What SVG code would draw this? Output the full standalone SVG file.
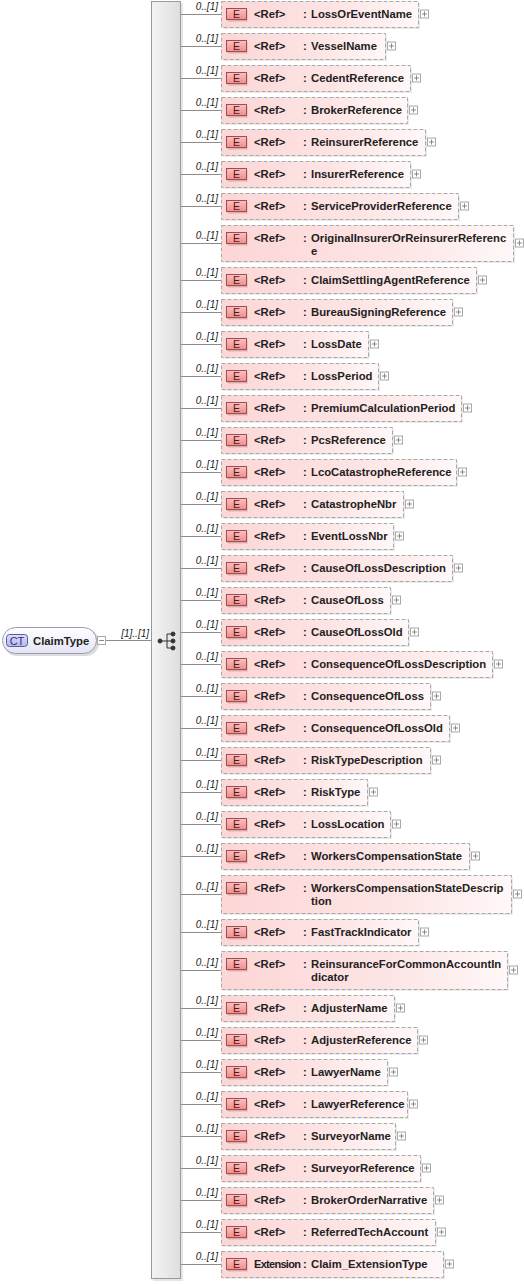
<svg xmlns="http://www.w3.org/2000/svg" xmlns:xlink="http://www.w3.org/1999/xlink" width="524" height="1284" viewBox="0 0 524 1284">
<defs>
<linearGradient id="gBox" x1="0" y1="0" x2="1" y2="0"><stop offset="0" stop-color="#fdd6d6"/><stop offset="0.6" stop-color="#fde5e5"/><stop offset="1" stop-color="#fff8f8"/></linearGradient>
<linearGradient id="gE" x1="0" y1="0" x2="0" y2="1"><stop offset="0" stop-color="#f9c2c2"/><stop offset="1" stop-color="#f08e8e"/></linearGradient>
<linearGradient id="gBar" x1="0" y1="0" x2="1" y2="0"><stop offset="0" stop-color="#f4f4f4"/><stop offset="1" stop-color="#dedede"/></linearGradient>
<linearGradient id="gCT" x1="0" y1="0" x2="0" y2="1"><stop offset="0" stop-color="#ffffff"/><stop offset="1" stop-color="#e4e4f6"/></linearGradient>
<linearGradient id="gCTb" x1="0" y1="0" x2="0" y2="1"><stop offset="0" stop-color="#dcdcfa"/><stop offset="1" stop-color="#b8b8ec"/></linearGradient>
<g id="plus"><rect x="0.5" y="0.5" width="8" height="8" fill="#fff" stroke="#a8a8a8"/><path d="M2 4.5h5M4.5 2v5" stroke="#8a8a8a" fill="none"/></g>
<g id="eb"><rect x="227.5" y="9.5" width="20" height="11" fill="#d9b0b0"/><rect x="226.5" y="7.5" width="20" height="11" fill="url(#gE)" stroke="#a34c4c"/><text x="236.5" y="16.6" class="et">E</text></g>
<style>
.box{fill:url(#gBox);stroke:#a9a9a9;stroke-dasharray:4 2}
.sh{fill:#ebebeb}
.et{font-family:"Liberation Sans",Arial,sans-serif;font-size:10.5px;fill:#5a1414;text-anchor:middle}
.t{font-family:"Liberation Sans",Arial,sans-serif;font-size:11.3px;font-weight:bold;fill:#222}
.lbl{font-family:"Liberation Sans",Arial,sans-serif;font-size:10px;font-style:italic;fill:#222;text-anchor:end}
.cn{stroke:#8c8c8c;stroke-width:1;fill:none}
</style>
</defs>
<rect width="524" height="1284" fill="#fff"/>

<g id="ClaimType">
<rect x="4" y="629" width="95" height="27" rx="13" fill="#dcdcdc"/>
<rect x="2.5" y="627.5" width="94" height="26" rx="13" fill="url(#gCT)" stroke="#9a9ab4"/>
<rect x="6.5" y="634.5" width="21" height="12" rx="3" fill="url(#gCTb)" stroke="#5a5aa0"/>
<text x="17" y="644.5" font-family="'Liberation Sans',Arial,sans-serif" font-size="11px" fill="#30307a" text-anchor="middle">CT</text>
<text x="33" y="644.5" class="t">ClaimType</text>
<rect x="97.5" y="636.5" width="8" height="8" fill="#fff" stroke="#a8a8a8"/>
<path d="M99 640.5h5" stroke="#8a8a8a"/>
</g>

<g id="sequence">
<rect x="153" y="3" width="30" height="1278" fill="#e6e6e6"/>
<rect x="151.5" y="1.5" width="29" height="1277" fill="url(#gBar)" stroke="#9a9a9a"/>
<g fill="#333" stroke="#333">
<path d="M160 641h7M167 634v14M167 634h6M167 641h6M167 648h6" fill="none"/>
<circle cx="160" cy="641" r="2"/><circle cx="173" cy="634" r="2"/><circle cx="173" cy="641" r="2"/><circle cx="173" cy="648" r="2"/>
</g>
</g>

<g id="connectors">
<path class="cn" d="M106 640.5H151"/>
<text class="lbl" x="149" y="637">[1]..[1]</text>
<path class="cn" d="M181 14.5h40M181 46.5h40M181 78.5h40M181 110.5h40M181 142.5h40M181 174.5h40M181 206.5h40M181 243.5h40M181 280.5h40M181 312.5h40M181 344.5h40M181 376.5h40M181 408.5h40M181 440.5h40M181 472.5h40M181 504.5h40M181 536.5h40M181 568.5h40M181 600.5h40M181 632.5h40M181 664.5h40M181 696.5h40M181 728.5h40M181 760.5h40M181 792.5h40M181 824.5h40M181 856.5h40M181 894.5h40M181 932.5h40M181 970.5h40M181 1008.5h40M181 1040.5h40M181 1072.5h40M181 1104.5h40M181 1136.5h40M181 1168.5h40M181 1200.5h40M181 1232.5h40M181 1264.5h40"/>
<text class="lbl" x="218" y="10">0..[1]</text>
<text class="lbl" x="218" y="42">0..[1]</text>
<text class="lbl" x="218" y="74">0..[1]</text>
<text class="lbl" x="218" y="106">0..[1]</text>
<text class="lbl" x="218" y="138">0..[1]</text>
<text class="lbl" x="218" y="170">0..[1]</text>
<text class="lbl" x="218" y="202">0..[1]</text>
<text class="lbl" x="218" y="239">0..[1]</text>
<text class="lbl" x="218" y="276">0..[1]</text>
<text class="lbl" x="218" y="308">0..[1]</text>
<text class="lbl" x="218" y="340">0..[1]</text>
<text class="lbl" x="218" y="372">0..[1]</text>
<text class="lbl" x="218" y="404">0..[1]</text>
<text class="lbl" x="218" y="436">0..[1]</text>
<text class="lbl" x="218" y="468">0..[1]</text>
<text class="lbl" x="218" y="500">0..[1]</text>
<text class="lbl" x="218" y="532">0..[1]</text>
<text class="lbl" x="218" y="564">0..[1]</text>
<text class="lbl" x="218" y="596">0..[1]</text>
<text class="lbl" x="218" y="628">0..[1]</text>
<text class="lbl" x="218" y="660">0..[1]</text>
<text class="lbl" x="218" y="692">0..[1]</text>
<text class="lbl" x="218" y="724">0..[1]</text>
<text class="lbl" x="218" y="756">0..[1]</text>
<text class="lbl" x="218" y="788">0..[1]</text>
<text class="lbl" x="218" y="820">0..[1]</text>
<text class="lbl" x="218" y="852">0..[1]</text>
<text class="lbl" x="218" y="890">0..[1]</text>
<text class="lbl" x="218" y="928">0..[1]</text>
<text class="lbl" x="218" y="966">0..[1]</text>
<text class="lbl" x="218" y="1004">0..[1]</text>
<text class="lbl" x="218" y="1036">0..[1]</text>
<text class="lbl" x="218" y="1068">0..[1]</text>
<text class="lbl" x="218" y="1100">0..[1]</text>
<text class="lbl" x="218" y="1132">0..[1]</text>
<text class="lbl" x="218" y="1164">0..[1]</text>
<text class="lbl" x="218" y="1196">0..[1]</text>
<text class="lbl" x="218" y="1228">0..[1]</text>
<text class="lbl" x="218" y="1260">0..[1]</text>
</g>

<g id="LossOrEventName" transform="translate(0,1)"><rect class="sh" x="223" y="2" width="197" height="26"/><rect class="box" x="221.5" y="0.5" width="197" height="26"/><use xlink:href="#eb"/><text class="t" x="254" y="17">&lt;Ref&gt;</text><text class="t" x="303" y="17">:</text><text class="t" x="311" y="17">LossOrEventName</text><use xlink:href="#plus" x="420" y="8.5"/></g>
<g id="VesselName" transform="translate(0,33)"><rect class="sh" x="223" y="2" width="164" height="26"/><rect class="box" x="221.5" y="0.5" width="164" height="26"/><use xlink:href="#eb"/><text class="t" x="254" y="17">&lt;Ref&gt;</text><text class="t" x="303" y="17">:</text><text class="t" x="311" y="17">VesselName</text><use xlink:href="#plus" x="387" y="8.5"/></g>
<g id="CedentReference" transform="translate(0,65)"><rect class="sh" x="223" y="2" width="189" height="26"/><rect class="box" x="221.5" y="0.5" width="189" height="26"/><use xlink:href="#eb"/><text class="t" x="254" y="17">&lt;Ref&gt;</text><text class="t" x="303" y="17">:</text><text class="t" x="311" y="17">CedentReference</text><use xlink:href="#plus" x="412" y="8.5"/></g>
<g id="BrokerReference" transform="translate(0,97)"><rect class="sh" x="223" y="2" width="186" height="26"/><rect class="box" x="221.5" y="0.5" width="186" height="26"/><use xlink:href="#eb"/><text class="t" x="254" y="17">&lt;Ref&gt;</text><text class="t" x="303" y="17">:</text><text class="t" x="311" y="17">BrokerReference</text><use xlink:href="#plus" x="409" y="8.5"/></g>
<g id="ReinsurerReference" transform="translate(0,129)"><rect class="sh" x="223" y="2" width="204" height="26"/><rect class="box" x="221.5" y="0.5" width="204" height="26"/><use xlink:href="#eb"/><text class="t" x="254" y="17">&lt;Ref&gt;</text><text class="t" x="303" y="17">:</text><text class="t" x="311" y="17">ReinsurerReference</text><use xlink:href="#plus" x="427" y="8.5"/></g>
<g id="InsurerReference" transform="translate(0,161)"><rect class="sh" x="223" y="2" width="189" height="26"/><rect class="box" x="221.5" y="0.5" width="189" height="26"/><use xlink:href="#eb"/><text class="t" x="254" y="17">&lt;Ref&gt;</text><text class="t" x="303" y="17">:</text><text class="t" x="311" y="17">InsurerReference</text><use xlink:href="#plus" x="412" y="8.5"/></g>
<g id="ServiceProviderReference" transform="translate(0,193)"><rect class="sh" x="223" y="2" width="237" height="26"/><rect class="box" x="221.5" y="0.5" width="237" height="26"/><use xlink:href="#eb"/><text class="t" x="254" y="17">&lt;Ref&gt;</text><text class="t" x="303" y="17">:</text><text class="t" x="311" y="17">ServiceProviderReference</text><use xlink:href="#plus" x="460" y="8.5"/></g>
<g id="OriginalInsurerOrReinsurerReference" transform="translate(0,225)"><rect class="sh" x="223" y="2" width="292" height="36"/><rect class="box" x="221.5" y="0.5" width="292" height="36"/><use xlink:href="#eb"/><text class="t" x="254" y="17">&lt;Ref&gt;</text><text class="t" x="303" y="17">:</text><text class="t" x="311" y="17">OriginalInsurerOrReinsurerReferenc</text><text class="t" x="311" y="30">e</text><use xlink:href="#plus" x="515" y="13.5"/></g>
<g id="ClaimSettlingAgentReference" transform="translate(0,267)"><rect class="sh" x="223" y="2" width="255" height="26"/><rect class="box" x="221.5" y="0.5" width="255" height="26"/><use xlink:href="#eb"/><text class="t" x="254" y="17">&lt;Ref&gt;</text><text class="t" x="303" y="17">:</text><text class="t" x="311" y="17">ClaimSettlingAgentReference</text><use xlink:href="#plus" x="478" y="8.5"/></g>
<g id="BureauSigningReference" transform="translate(0,299)"><rect class="sh" x="223" y="2" width="231" height="26"/><rect class="box" x="221.5" y="0.5" width="231" height="26"/><use xlink:href="#eb"/><text class="t" x="254" y="17">&lt;Ref&gt;</text><text class="t" x="303" y="17">:</text><text class="t" x="311" y="17">BureauSigningReference</text><use xlink:href="#plus" x="454" y="8.5"/></g>
<g id="LossDate" transform="translate(0,331)"><rect class="sh" x="223" y="2" width="147" height="26"/><rect class="box" x="221.5" y="0.5" width="147" height="26"/><use xlink:href="#eb"/><text class="t" x="254" y="17">&lt;Ref&gt;</text><text class="t" x="303" y="17">:</text><text class="t" x="311" y="17">LossDate</text><use xlink:href="#plus" x="370" y="8.5"/></g>
<g id="LossPeriod" transform="translate(0,363)"><rect class="sh" x="223" y="2" width="157" height="26"/><rect class="box" x="221.5" y="0.5" width="157" height="26"/><use xlink:href="#eb"/><text class="t" x="254" y="17">&lt;Ref&gt;</text><text class="t" x="303" y="17">:</text><text class="t" x="311" y="17">LossPeriod</text><use xlink:href="#plus" x="380" y="8.5"/></g>
<g id="PremiumCalculationPeriod" transform="translate(0,395)"><rect class="sh" x="223" y="2" width="240" height="26"/><rect class="box" x="221.5" y="0.5" width="240" height="26"/><use xlink:href="#eb"/><text class="t" x="254" y="17">&lt;Ref&gt;</text><text class="t" x="303" y="17">:</text><text class="t" x="311" y="17">PremiumCalculationPeriod</text><use xlink:href="#plus" x="463" y="8.5"/></g>
<g id="PcsReference" transform="translate(0,427)"><rect class="sh" x="223" y="2" width="171" height="26"/><rect class="box" x="221.5" y="0.5" width="171" height="26"/><use xlink:href="#eb"/><text class="t" x="254" y="17">&lt;Ref&gt;</text><text class="t" x="303" y="17">:</text><text class="t" x="311" y="17">PcsReference</text><use xlink:href="#plus" x="394" y="8.5"/></g>
<g id="LcoCatastropheReference" transform="translate(0,459)"><rect class="sh" x="223" y="2" width="235" height="26"/><rect class="box" x="221.5" y="0.5" width="235" height="26"/><use xlink:href="#eb"/><text class="t" x="254" y="17">&lt;Ref&gt;</text><text class="t" x="303" y="17">:</text><text class="t" x="311" y="17">LcoCatastropheReference</text><use xlink:href="#plus" x="458" y="8.5"/></g>
<g id="CatastropheNbr" transform="translate(0,491)"><rect class="sh" x="223" y="2" width="182" height="26"/><rect class="box" x="221.5" y="0.5" width="182" height="26"/><use xlink:href="#eb"/><text class="t" x="254" y="17">&lt;Ref&gt;</text><text class="t" x="303" y="17">:</text><text class="t" x="311" y="17">CatastropheNbr</text><use xlink:href="#plus" x="405" y="8.5"/></g>
<g id="EventLossNbr" transform="translate(0,523)"><rect class="sh" x="223" y="2" width="172" height="26"/><rect class="box" x="221.5" y="0.5" width="172" height="26"/><use xlink:href="#eb"/><text class="t" x="254" y="17">&lt;Ref&gt;</text><text class="t" x="303" y="17">:</text><text class="t" x="311" y="17">EventLossNbr</text><use xlink:href="#plus" x="395" y="8.5"/></g>
<g id="CauseOfLossDescription" transform="translate(0,555)"><rect class="sh" x="223" y="2" width="231" height="26"/><rect class="box" x="221.5" y="0.5" width="231" height="26"/><use xlink:href="#eb"/><text class="t" x="254" y="17">&lt;Ref&gt;</text><text class="t" x="303" y="17">:</text><text class="t" x="311" y="17">CauseOfLossDescription</text><use xlink:href="#plus" x="454" y="8.5"/></g>
<g id="CauseOfLoss" transform="translate(0,587)"><rect class="sh" x="223" y="2" width="169" height="26"/><rect class="box" x="221.5" y="0.5" width="169" height="26"/><use xlink:href="#eb"/><text class="t" x="254" y="17">&lt;Ref&gt;</text><text class="t" x="303" y="17">:</text><text class="t" x="311" y="17">CauseOfLoss</text><use xlink:href="#plus" x="392" y="8.5"/></g>
<g id="CauseOfLossOld" transform="translate(0,619)"><rect class="sh" x="223" y="2" width="187" height="26"/><rect class="box" x="221.5" y="0.5" width="187" height="26"/><use xlink:href="#eb"/><text class="t" x="254" y="17">&lt;Ref&gt;</text><text class="t" x="303" y="17">:</text><text class="t" x="311" y="17">CauseOfLossOld</text><use xlink:href="#plus" x="410" y="8.5"/></g>
<g id="ConsequenceOfLossDescription" transform="translate(0,651)"><rect class="sh" x="223" y="2" width="271" height="26"/><rect class="box" x="221.5" y="0.5" width="271" height="26"/><use xlink:href="#eb"/><text class="t" x="254" y="17">&lt;Ref&gt;</text><text class="t" x="303" y="17">:</text><text class="t" x="311" y="17">ConsequenceOfLossDescription</text><use xlink:href="#plus" x="494" y="8.5"/></g>
<g id="ConsequenceOfLoss" transform="translate(0,683)"><rect class="sh" x="223" y="2" width="209" height="26"/><rect class="box" x="221.5" y="0.5" width="209" height="26"/><use xlink:href="#eb"/><text class="t" x="254" y="17">&lt;Ref&gt;</text><text class="t" x="303" y="17">:</text><text class="t" x="311" y="17">ConsequenceOfLoss</text><use xlink:href="#plus" x="432" y="8.5"/></g>
<g id="ConsequenceOfLossOld" transform="translate(0,715)"><rect class="sh" x="223" y="2" width="228" height="26"/><rect class="box" x="221.5" y="0.5" width="228" height="26"/><use xlink:href="#eb"/><text class="t" x="254" y="17">&lt;Ref&gt;</text><text class="t" x="303" y="17">:</text><text class="t" x="311" y="17">ConsequenceOfLossOld</text><use xlink:href="#plus" x="451" y="8.5"/></g>
<g id="RiskTypeDescription" transform="translate(0,747)"><rect class="sh" x="223" y="2" width="209" height="26"/><rect class="box" x="221.5" y="0.5" width="209" height="26"/><use xlink:href="#eb"/><text class="t" x="254" y="17">&lt;Ref&gt;</text><text class="t" x="303" y="17">:</text><text class="t" x="311" y="17">RiskTypeDescription</text><use xlink:href="#plus" x="432" y="8.5"/></g>
<g id="RiskType" transform="translate(0,779)"><rect class="sh" x="223" y="2" width="146" height="26"/><rect class="box" x="221.5" y="0.5" width="146" height="26"/><use xlink:href="#eb"/><text class="t" x="254" y="17">&lt;Ref&gt;</text><text class="t" x="303" y="17">:</text><text class="t" x="311" y="17">RiskType</text><use xlink:href="#plus" x="369" y="8.5"/></g>
<g id="LossLocation" transform="translate(0,811)"><rect class="sh" x="223" y="2" width="169" height="26"/><rect class="box" x="221.5" y="0.5" width="169" height="26"/><use xlink:href="#eb"/><text class="t" x="254" y="17">&lt;Ref&gt;</text><text class="t" x="303" y="17">:</text><text class="t" x="311" y="17">LossLocation</text><use xlink:href="#plus" x="392" y="8.5"/></g>
<g id="WorkersCompensationState" transform="translate(0,843)"><rect class="sh" x="223" y="2" width="248" height="26"/><rect class="box" x="221.5" y="0.5" width="248" height="26"/><use xlink:href="#eb"/><text class="t" x="254" y="17">&lt;Ref&gt;</text><text class="t" x="303" y="17">:</text><text class="t" x="311" y="17">WorkersCompensationState</text><use xlink:href="#plus" x="471" y="8.5"/></g>
<g id="WorkersCompensationStateDescription" transform="translate(0,875)"><rect class="sh" x="223" y="2" width="290" height="38"/><rect class="box" x="221.5" y="0.5" width="290" height="38"/><use xlink:href="#eb"/><text class="t" x="254" y="17">&lt;Ref&gt;</text><text class="t" x="303" y="17">:</text><text class="t" x="311" y="17">WorkersCompensationStateDescrip</text><text class="t" x="311" y="30">tion</text><use xlink:href="#plus" x="513" y="14.5"/></g>
<g id="FastTrackIndicator" transform="translate(0,919)"><rect class="sh" x="223" y="2" width="197" height="26"/><rect class="box" x="221.5" y="0.5" width="197" height="26"/><use xlink:href="#eb"/><text class="t" x="254" y="17">&lt;Ref&gt;</text><text class="t" x="303" y="17">:</text><text class="t" x="311" y="17">FastTrackIndicator</text><use xlink:href="#plus" x="420" y="8.5"/></g>
<g id="ReinsuranceForCommonAccountIndicator" transform="translate(0,951)"><rect class="sh" x="223" y="2" width="286" height="38"/><rect class="box" x="221.5" y="0.5" width="286" height="38"/><use xlink:href="#eb"/><text class="t" x="254" y="17">&lt;Ref&gt;</text><text class="t" x="303" y="17">:</text><text class="t" x="311" y="17">ReinsuranceForCommonAccountIn</text><text class="t" x="311" y="30">dicator</text><use xlink:href="#plus" x="509" y="14.5"/></g>
<g id="AdjusterName" transform="translate(0,995)"><rect class="sh" x="223" y="2" width="173" height="26"/><rect class="box" x="221.5" y="0.5" width="173" height="26"/><use xlink:href="#eb"/><text class="t" x="254" y="17">&lt;Ref&gt;</text><text class="t" x="303" y="17">:</text><text class="t" x="311" y="17">AdjusterName</text><use xlink:href="#plus" x="396" y="8.5"/></g>
<g id="AdjusterReference" transform="translate(0,1027)"><rect class="sh" x="223" y="2" width="196" height="26"/><rect class="box" x="221.5" y="0.5" width="196" height="26"/><use xlink:href="#eb"/><text class="t" x="254" y="17">&lt;Ref&gt;</text><text class="t" x="303" y="17">:</text><text class="t" x="311" y="17">AdjusterReference</text><use xlink:href="#plus" x="419" y="8.5"/></g>
<g id="LawyerName" transform="translate(0,1059)"><rect class="sh" x="223" y="2" width="166" height="26"/><rect class="box" x="221.5" y="0.5" width="166" height="26"/><use xlink:href="#eb"/><text class="t" x="254" y="17">&lt;Ref&gt;</text><text class="t" x="303" y="17">:</text><text class="t" x="311" y="17">LawyerName</text><use xlink:href="#plus" x="389" y="8.5"/></g>
<g id="LawyerReference" transform="translate(0,1091)"><rect class="sh" x="223" y="2" width="186" height="26"/><rect class="box" x="221.5" y="0.5" width="186" height="26"/><use xlink:href="#eb"/><text class="t" x="254" y="17">&lt;Ref&gt;</text><text class="t" x="303" y="17">:</text><text class="t" x="311" y="17">LawyerReference</text><use xlink:href="#plus" x="409" y="8.5"/></g>
<g id="SurveyorName" transform="translate(0,1123)"><rect class="sh" x="223" y="2" width="174" height="26"/><rect class="box" x="221.5" y="0.5" width="174" height="26"/><use xlink:href="#eb"/><text class="t" x="254" y="17">&lt;Ref&gt;</text><text class="t" x="303" y="17">:</text><text class="t" x="311" y="17">SurveyorName</text><use xlink:href="#plus" x="397" y="8.5"/></g>
<g id="SurveyorReference" transform="translate(0,1155)"><rect class="sh" x="223" y="2" width="199" height="26"/><rect class="box" x="221.5" y="0.5" width="199" height="26"/><use xlink:href="#eb"/><text class="t" x="254" y="17">&lt;Ref&gt;</text><text class="t" x="303" y="17">:</text><text class="t" x="311" y="17">SurveyorReference</text><use xlink:href="#plus" x="422" y="8.5"/></g>
<g id="BrokerOrderNarrative" transform="translate(0,1187)"><rect class="sh" x="223" y="2" width="212" height="26"/><rect class="box" x="221.5" y="0.5" width="212" height="26"/><use xlink:href="#eb"/><text class="t" x="254" y="17">&lt;Ref&gt;</text><text class="t" x="303" y="17">:</text><text class="t" x="311" y="17">BrokerOrderNarrative</text><use xlink:href="#plus" x="435" y="8.5"/></g>
<g id="ReferredTechAccount" transform="translate(0,1219)"><rect class="sh" x="223" y="2" width="214" height="26"/><rect class="box" x="221.5" y="0.5" width="214" height="26"/><use xlink:href="#eb"/><text class="t" x="254" y="17">&lt;Ref&gt;</text><text class="t" x="303" y="17">:</text><text class="t" x="311" y="17">ReferredTechAccount</text><use xlink:href="#plus" x="437" y="8.5"/></g>
<g id="Extension" transform="translate(0,1251)"><rect class="sh" x="223" y="2" width="222" height="26"/><rect class="box" x="221.5" y="0.5" width="222" height="26"/><use xlink:href="#eb"/><text class="t" x="254" y="17"><tspan font-size="11px" letter-spacing="-0.7px">Extension</tspan><tspan x="303">:</tspan><tspan x="311">Claim_ExtensionType</tspan></text><use xlink:href="#plus" x="445" y="8.5"/></g>
</svg>
